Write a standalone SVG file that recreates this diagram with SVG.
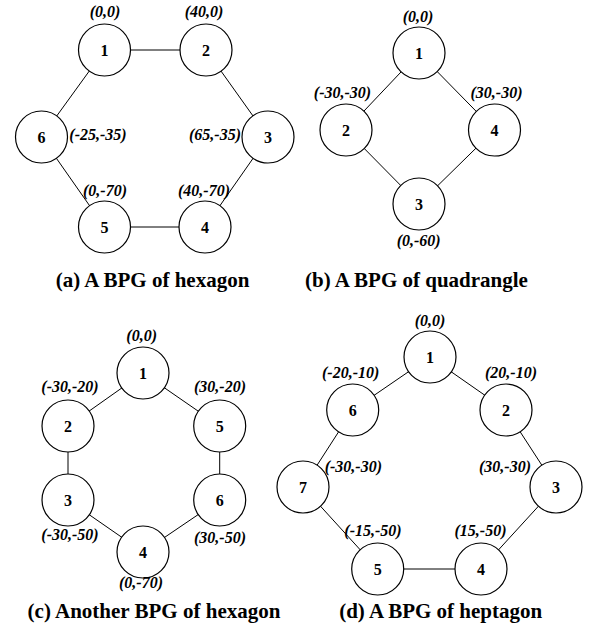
<svg xmlns="http://www.w3.org/2000/svg" width="594" height="638" viewBox="0 0 594 638">
<style>
circle{fill:#fff;stroke:#000;stroke-width:1.2}
line{stroke:#000;stroke-width:1}
</style>
<rect width="594" height="638" fill="#fff"/>
<g id="edges">
<line x1="104.5" y1="50" x2="206" y2="50"/>
<line x1="206" y1="50" x2="268" y2="137"/>
<line x1="268" y1="137" x2="205" y2="227"/>
<line x1="205" y1="227" x2="104.5" y2="227"/>
<line x1="104.5" y1="227" x2="41.5" y2="137"/>
<line x1="41.5" y1="137" x2="104.5" y2="50"/>
<line x1="419" y1="53" x2="346" y2="130"/>
<line x1="346" y1="130" x2="419" y2="204"/>
<line x1="419" y1="204" x2="494.5" y2="130"/>
<line x1="494.5" y1="130" x2="419" y2="53"/>
<line x1="143" y1="373" x2="68" y2="426"/>
<line x1="68" y1="426" x2="68" y2="500"/>
<line x1="68" y1="500" x2="143" y2="552"/>
<line x1="143" y1="552" x2="219.7" y2="500"/>
<line x1="219.7" y1="500" x2="219.7" y2="426"/>
<line x1="219.7" y1="426" x2="143" y2="373"/>
<line x1="430" y1="357" x2="506" y2="410"/>
<line x1="506" y1="410" x2="556" y2="487"/>
<line x1="556" y1="487" x2="481" y2="569"/>
<line x1="481" y1="569" x2="377.7" y2="569"/>
<line x1="377.7" y1="569" x2="303" y2="487"/>
<line x1="303" y1="487" x2="352.7" y2="410"/>
<line x1="352.7" y1="410" x2="430" y2="357"/>
</g>
<g id="nodes" font-family="serif" font-weight="bold" font-size="16" text-anchor="middle">
<g id="a1"><circle cx="104.5" cy="50" r="26"/><text font-family="Liberation Serif" x="104.5" y="55.5">1</text></g>
<g id="a2"><circle cx="206" cy="50" r="26"/><text font-family="Liberation Serif" x="206" y="55.5">2</text></g>
<g id="a3"><circle cx="268" cy="137" r="26"/><text font-family="Liberation Serif" x="268" y="142.5">3</text></g>
<g id="a4"><circle cx="205" cy="227" r="26"/><text font-family="Liberation Serif" x="205" y="232.5">4</text></g>
<g id="a5"><circle cx="104.5" cy="227" r="26"/><text font-family="Liberation Serif" x="104.5" y="232.5">5</text></g>
<g id="a6"><circle cx="41.5" cy="137" r="26"/><text font-family="Liberation Serif" x="41.5" y="142.5">6</text></g>
<g id="b1"><circle cx="419" cy="53" r="26"/><text font-family="Liberation Serif" x="419" y="58.5">1</text></g>
<g id="b2"><circle cx="346" cy="130" r="26"/><text font-family="Liberation Serif" x="346" y="135.5">2</text></g>
<g id="b3"><circle cx="419" cy="204" r="26"/><text font-family="Liberation Serif" x="419" y="209.5">3</text></g>
<g id="b4"><circle cx="494.5" cy="130" r="26"/><text font-family="Liberation Serif" x="494.5" y="135.5">4</text></g>
<g id="c1"><circle cx="143" cy="373" r="26"/><text font-family="Liberation Serif" x="143" y="378.5">1</text></g>
<g id="c2"><circle cx="68" cy="426" r="26"/><text font-family="Liberation Serif" x="68" y="431.5">2</text></g>
<g id="c3"><circle cx="68" cy="500" r="26"/><text font-family="Liberation Serif" x="68" y="505.5">3</text></g>
<g id="c4"><circle cx="143" cy="552" r="26"/><text font-family="Liberation Serif" x="143" y="557.5">4</text></g>
<g id="c5"><circle cx="219.7" cy="426" r="26"/><text font-family="Liberation Serif" x="219.7" y="431.5">5</text></g>
<g id="c6"><circle cx="219.7" cy="500" r="26"/><text font-family="Liberation Serif" x="219.7" y="505.5">6</text></g>
<g id="d1"><circle cx="430" cy="357" r="26"/><text font-family="Liberation Serif" x="430" y="362.5">1</text></g>
<g id="d2"><circle cx="506" cy="410" r="26"/><text font-family="Liberation Serif" x="506" y="415.5">2</text></g>
<g id="d3"><circle cx="556" cy="487" r="26"/><text font-family="Liberation Serif" x="556" y="492.5">3</text></g>
<g id="d4"><circle cx="481" cy="569" r="26"/><text font-family="Liberation Serif" x="481" y="574.5">4</text></g>
<g id="d5"><circle cx="377.7" cy="569" r="26"/><text font-family="Liberation Serif" x="377.7" y="574.5">5</text></g>
<g id="d6"><circle cx="352.7" cy="410" r="26"/><text font-family="Liberation Serif" x="352.7" y="415.5">6</text></g>
<g id="d7"><circle cx="303" cy="487" r="26"/><text font-family="Liberation Serif" x="303" y="492.5">7</text></g>
</g>
<g id="labels" font-family="serif" font-weight="bold" font-style="italic" font-size="16" text-anchor="middle">
<text font-family="Liberation Serif" x="105" y="17">(0,0)</text>
<text font-family="Liberation Serif" x="204" y="17">(40,0)</text>
<text font-family="Liberation Serif" x="98" y="140">(-25,-35)</text>
<text font-family="Liberation Serif" x="215" y="140">(65,-35)</text>
<text font-family="Liberation Serif" x="105" y="196">(0,-70)</text>
<text font-family="Liberation Serif" x="204" y="196">(40,-70)</text>
<text font-family="Liberation Serif" x="418" y="22">(0,0)</text>
<text font-family="Liberation Serif" x="342.5" y="97.5">(-30,-30)</text>
<text font-family="Liberation Serif" x="496.5" y="97.5">(30,-30)</text>
<text font-family="Liberation Serif" x="418.7" y="246">(0,-60)</text>
<text font-family="Liberation Serif" x="141.7" y="341">(0,0)</text>
<text font-family="Liberation Serif" x="70" y="391.7">(-30,-20)</text>
<text font-family="Liberation Serif" x="220" y="391.7">(30,-20)</text>
<text font-family="Liberation Serif" x="70" y="540">(-30,-50)</text>
<text font-family="Liberation Serif" x="220" y="543">(30,-50)</text>
<text font-family="Liberation Serif" x="141" y="588">(0,-70)</text>
<text font-family="Liberation Serif" x="430" y="325.5">(0,0)</text>
<text font-family="Liberation Serif" x="350.7" y="378">(-20,-10)</text>
<text font-family="Liberation Serif" x="511" y="378">(20,-10)</text>
<text font-family="Liberation Serif" x="353.3" y="471.7">(-30,-30)</text>
<text font-family="Liberation Serif" x="505" y="471.7">(30,-30)</text>
<text font-family="Liberation Serif" x="373" y="536">(-15,-50)</text>
<text font-family="Liberation Serif" x="480.5" y="536">(15,-50)</text>
</g>
<g id="captions" font-family="serif" font-weight="bold" font-size="21" text-anchor="middle">
<text font-family="Liberation Serif" x="152.5" y="287">(a) A BPG of hexagon</text>
<text font-family="Liberation Serif" x="416.5" y="287">(b) A BPG of quadrangle</text>
<text font-family="Liberation Serif" x="154" y="617.5">(c) Another BPG of hexagon</text>
<text font-family="Liberation Serif" x="440.7" y="617.5">(d) A BPG of heptagon</text>
</g>
</svg>
